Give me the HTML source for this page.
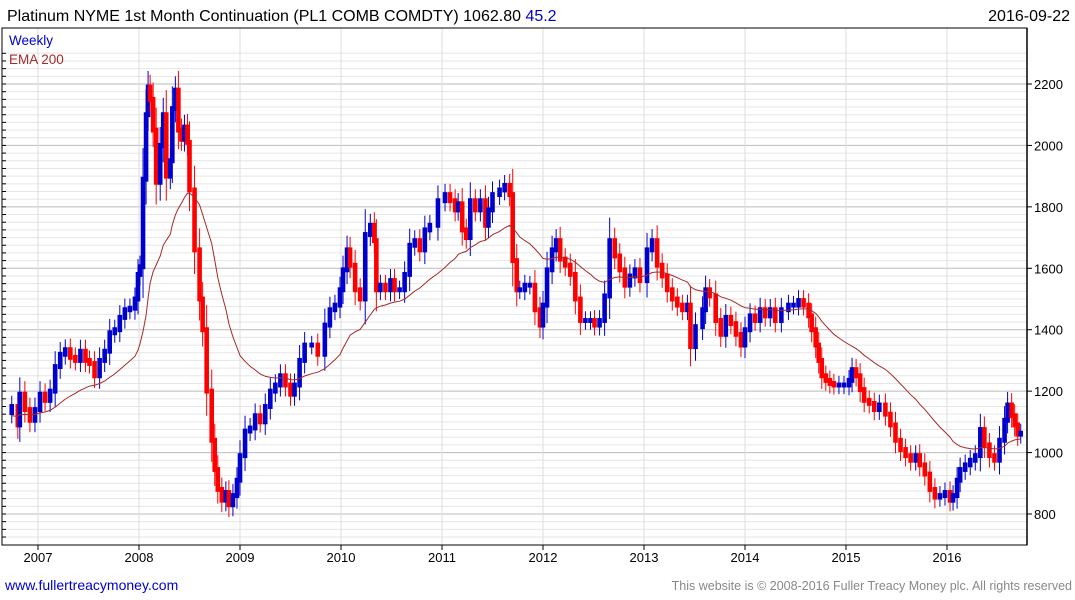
<!DOCTYPE html>
<html><head><meta charset="utf-8"><style>
body{margin:0;background:#fff;font-family:"Liberation Sans",sans-serif}
svg{display:block}
</style></head><body>
<svg id="c" width="1075" height="600" xmlns="http://www.w3.org/2000/svg">
<text x="7" y="21" font-size="16" fill="#000">Platinum NYME 1st Month Continuation (PL1 COMB COMDTY) 1062.80 <tspan fill="#0000cc">45.2</tspan></text>
<text x="1070" y="21" font-size="16" fill="#000" text-anchor="end">2016-09-22</text>
<g id="grid"></g>
<g id="marks"></g>
<rect x="2" y="28" width="1025" height="517" fill="none" stroke="#000" stroke-width="1"/>
<text x="9" y="45" font-size="13.5" fill="#0000cc">Weekly</text>
<text x="9" y="64" font-size="13.5" fill="#a52a2a">EMA 200</text>
<text x="5" y="590" font-size="14" fill="#0000cc">www.fullertreacymoney.com</text>
<text x="1072" y="590" font-size="12.5" fill="#888" text-anchor="end">This website is © 2008-2016 Fuller Treacy Money plc. All rights reserved</text>
</svg>
<script>
const dates=[2006.74,2006.80,2006.82,2006.87,2006.92,2006.97,2007.02,2007.07,2007.12,2007.17,2007.22,2007.27,2007.32,2007.37,2007.42,2007.47,2007.51,2007.56,2007.61,2007.66,2007.71,2007.76,2007.81,2007.86,2007.91,2007.96,2007.99,2008.01,2008.04,2008.07,2008.09,2008.11,2008.14,2008.17,2008.21,2008.24,2008.27,2008.31,2008.33,2008.36,2008.39,2008.42,2008.45,2008.48,2008.50,2008.55,2008.60,2008.63,2008.67,2008.72,2008.75,2008.78,2008.82,2008.86,2008.89,2008.93,2008.97,2009.00,2009.05,2009.10,2009.15,2009.20,2009.25,2009.30,2009.35,2009.40,2009.45,2009.50,2009.54,2009.59,2009.64,2009.71,2009.77,2009.84,2009.89,2009.94,2009.99,2010.02,2010.06,2010.09,2010.14,2010.19,2010.24,2010.29,2010.33,2010.35,2010.39,2010.44,2010.49,2010.53,2010.58,2010.63,2010.68,2010.73,2010.78,2010.83,2010.88,2010.96,2011.03,2011.08,2011.13,2011.16,2011.20,2011.24,2011.28,2011.33,2011.38,2011.43,2011.46,2011.50,2011.57,2011.62,2011.67,2011.70,2011.74,2011.77,2011.82,2011.87,2011.92,2011.97,2012.00,2012.04,2012.09,2012.13,2012.17,2012.22,2012.27,2012.32,2012.37,2012.42,2012.47,2012.51,2012.56,2012.61,2012.66,2012.71,2012.76,2012.81,2012.86,2012.91,2012.96,2013.03,2013.08,2013.13,2013.18,2013.23,2013.28,2013.33,2013.38,2013.43,2013.46,2013.51,2013.58,2013.61,2013.65,2013.71,2013.76,2013.81,2013.86,2013.91,2013.96,2014.00,2014.05,2014.10,2014.15,2014.20,2014.25,2014.30,2014.36,2014.43,2014.48,2014.53,2014.58,2014.63,2014.66,2014.70,2014.73,2014.76,2014.80,2014.84,2014.88,2014.93,2014.98,2015.03,2015.06,2015.10,2015.14,2015.18,2015.23,2015.28,2015.33,2015.39,2015.44,2015.49,2015.54,2015.59,2015.64,2015.69,2015.73,2015.78,2015.83,2015.88,2015.93,2015.98,2016.03,2016.06,2016.10,2016.13,2016.18,2016.23,2016.28,2016.33,2016.37,2016.42,2016.47,2016.52,2016.57,2016.60,2016.64,2016.67,2016.70,2016.73];
const closes=[1150,1090,1190,1140,1105,1140,1190,1170,1200,1280,1320,1335,1310,1300,1330,1300,1290,1250,1300,1330,1390,1400,1440,1465,1470,1500,1580,1605,1890,2100,2190,2150,2050,1880,2000,2100,1900,1950,2120,2180,2050,2020,2060,2010,1855,1660,1500,1400,1200,1040,945,880,845,870,830,860,910,990,1070,1080,1120,1100,1150,1200,1220,1250,1220,1190,1220,1300,1350,1350,1320,1415,1465,1480,1530,1595,1660,1610,1530,1500,1710,1740,1690,1530,1545,1530,1560,1530,1530,1580,1675,1690,1660,1725,1740,1820,1840,1820,1790,1810,1725,1700,1820,1790,1820,1740,1790,1840,1855,1870,1840,1625,1530,1530,1545,1545,1465,1415,1480,1595,1660,1690,1630,1610,1580,1500,1430,1430,1430,1415,1430,1510,1690,1640,1595,1545,1575,1595,1560,1660,1690,1610,1575,1530,1500,1480,1465,1480,1345,1410,1465,1530,1510,1430,1385,1440,1420,1385,1350,1400,1445,1430,1465,1445,1465,1430,1465,1480,1480,1495,1480,1445,1400,1350,1300,1250,1235,1225,1220,1220,1220,1235,1270,1250,1205,1170,1160,1140,1155,1125,1090,1040,1010,990,975,990,960,930,880,855,860,870,845,860,910,945,960,975,990,1075,1025,990,975,1040,1105,1155,1120,1090,1060,1063];
const yTicks=[800,1000,1200,1400,1600,1800,2000,2200];
const xYears=[2007,2008,2009,2010,2011,2012,2013,2014,2015,2016];
const NS="http://www.w3.org/2000/svg";
const X=t=>38+(t-2007)*101;
const Y=p=>514-(p-800)*430/1400;
function mk(tag,at,parent){const e=document.createElementNS(NS,tag);for(const k in at)e.setAttribute(k,at[k]);parent.appendChild(e);return e;}
const grid=document.getElementById('grid'),marks=document.getElementById('marks'),svg=document.getElementById('c');
for(let p=700;p<=2320;p+=25){const y=Y(p);if(y<29||y>544)continue;
 const major=p%200===0;
 const l=mk('line',{x1:2,x2:1027,y1:y,y2:y,stroke:major?'#bbb':'#e6e6e6','stroke-width':1},grid);
 
 const tk=mk('line',{x1:2,x2:6,y1:y,y2:y,stroke:'#000'},grid);
 }
yTicks.forEach(v=>{const y=Y(v);
 const tk=mk('line',{x1:1027,x2:1032,y1:y,y2:y,stroke:'#000'},grid);
 
 const t=mk('text',{x:1034,y:y+5,'font-size':13,fill:'#000'},grid);t.textContent=v;
 });
xYears.forEach(yr=>{const x=X(yr);
 const l=mk('line',{x1:x,x2:x,y1:28,y2:545,stroke:'#ddd'},grid);
 
 const tk=mk('line',{x1:x,x2:x,y1:545,y2:550,stroke:'#000'},grid);
 
 const t=mk('text',{x:x,y:562,'font-size':13,fill:'#000','text-anchor':'middle'},grid);t.textContent=yr;
 });
for(let i=0;i<closes.length;i++){
 const prev=i?closes[i-1]:closes[0]-20;const c=closes[i];
 const up=c>=prev;const col=up?'#0000cc':'#ff0000';
 const x=X(dates[i]);const hi=Math.max(prev,c)+8,lo=Math.min(prev,c)-8;
 const ext=Math.abs(c-prev)*0.25+22;
 const w=mk('line',{x1:x,x2:x,y1:Y(hi+ext),y2:Y(lo-ext),stroke:col,'stroke-width':1},marks);
 
 const h=Math.max(3,Y(lo)-Y(hi));
 const b=mk('rect',{x:x-2.3,y:Y(hi),width:4.6,height:h,fill:col},marks);
 
}
let e=closes[0]-30;const pts=[];const a=0.075;
closes.forEach((c,i)=>{e=i?e+a*(c-e):e;pts.push(X(dates[i]).toFixed(1)+','+Y(e).toFixed(1));});
const pl=mk('polyline',{points:pts.join(' '),fill:'none',stroke:'#a52a2a','stroke-width':1},marks);

const ax=mk('line',{x1:1027,x2:1027,y1:28,y2:545,stroke:'#000','stroke-width':1.5},svg);

</script>
</body></html>
